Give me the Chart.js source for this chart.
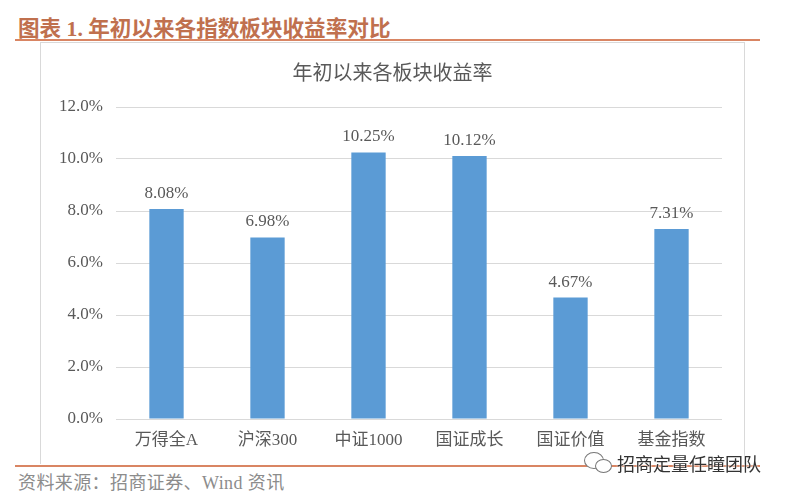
<!DOCTYPE html>
<html>
<head>
<meta charset="utf-8">
<script src="https://cdn.jsdelivr.net/npm/chart.js@4.4.1/dist/chart.umd.min.js"></script>
<style>
  html, body { margin: 0; padding: 0; background: #fff; }
  body { width: 794px; height: 500px; position: relative; overflow: hidden;
         font-family: "Liberation Serif", "Noto Sans CJK SC", serif; }
  #head { position: absolute; left: 18px; top: 11px; font-size: 21.6px; font-weight: bold;
          color: #C0704E; font-family: "Liberation Serif", "Noto Sans CJK SC", serif; white-space: nowrap; }
  .rule { position: absolute; left: 15px; width: 745px; height: 2px; background: #D98563; }
  #box { position: absolute; left: 40px; top: 42px; width: 703px; height: 421px;
         border: 1px solid #D9D9D9; border-bottom: none; }
  #ctitle { position: absolute; left: 0; width: 100%; top: 14px; text-align: center;
            font-size: 20px; color: #595959; font-family: "Noto Sans CJK SC", sans-serif; }
  #wrap { position: absolute; left: 0; top: 0; width: 703px; height: 421px; }
  #src { position: absolute; left: 18px; top: 468px; font-size: 18px; letter-spacing: 0.4px; color: #8C8C8C; white-space: nowrap; }
  #wm { position: absolute; left: 617px; top: 450px; font-size: 18px; color: #333; white-space: nowrap;
        font-family: "Noto Sans CJK SC", sans-serif; text-shadow: 0 0 2px #fff, 0 0 2px #fff; }
  .bub { position: absolute; border: 1px solid #777; border-radius: 50%; background: #fff; }
</style>
</head>
<body>
<div id="head">图表 1. 年初以来各指数板块收益率对比</div>
<div class="rule" style="top:39px"></div>
<div id="box">
  <div id="wrap"><canvas id="chart"></canvas></div>
  <div id="ctitle">年初以来各板块收益率</div>
</div>
<div class="rule" style="top:465px"></div>
<div id="src">资料来源：招商证券、Wind 资讯</div>
<div class="bub" style="left:584px;top:452px;width:18px;height:15px"></div>
<div class="bub" style="left:595px;top:459px;width:15px;height:12px"></div>
<div id="wm">招商定量任瞳团队</div>

<script>
const categories = ['万得全A', '沪深300', '中证1000', '国证成长', '国证价值', '基金指数']
const returns = [8.08, 6.98, 10.25, 10.12, 4.67, 7.31]
const yTicks = [0, 2, 4, 6, 8, 10, 12]

const textColor = '#595959'
const serif = '"Liberation Serif", "Noto Sans CJK SC", serif'

const valueLabels = {
  id: 'valueLabels',
  afterDatasetsDraw(chart) {
    const ctx = chart.ctx
    const meta = chart.getDatasetMeta(0)
    ctx.save()
    ctx.font = '17px ' + serif
    ctx.fillStyle = textColor
    ctx.textAlign = 'center'
    ctx.textBaseline = 'bottom'
    meta.data.forEach((bar, i) => {
      ctx.fillText(returns[i].toFixed(2) + '%', bar.x, bar.y - 7)
    })
    ctx.restore()
  },
}

new Chart(document.getElementById('chart'), {
  type: 'bar',
  data: {
    labels: categories,
    datasets: [
      {
        data: returns,
        backgroundColor: '#5B9BD5',
        categoryPercentage: 1,
        barPercentage: 0.34,
      },
    ],
  },
  options: {
    responsive: true,
    maintainAspectRatio: false,
    animation: false,
    layout: { padding: { top: 64, right: 22, left: 0, bottom: 0 } },
    plugins: {
      legend: { display: false },
      tooltip: { enabled: false },
    },
    scales: {
      x: {
        grid: { display: false, drawTicks: false },
        border: { display: false },
        ticks: { color: textColor, font: { size: 17, family: serif }, padding: 11 },
        afterFit(scale) { scale.height = 45 },
      },
      y: {
        min: yTicks[0],
        max: yTicks[yTicks.length - 1],
        afterBuildTicks(scale) { scale.ticks = yTicks.map((v) => ({ value: v })) },
        grid: { color: '#D9D9D9', lineWidth: 1, drawTicks: false },
        border: { display: false },
        ticks: {
          color: textColor,
          font: { size: 17, family: serif },
          padding: 13,
          callback: (v) => v.toFixed(1) + '%',
        },
        afterFit(scale) { scale.width = 75 },
      },
    },
  },
  plugins: [valueLabels],
})
</script>
</body>
</html>
